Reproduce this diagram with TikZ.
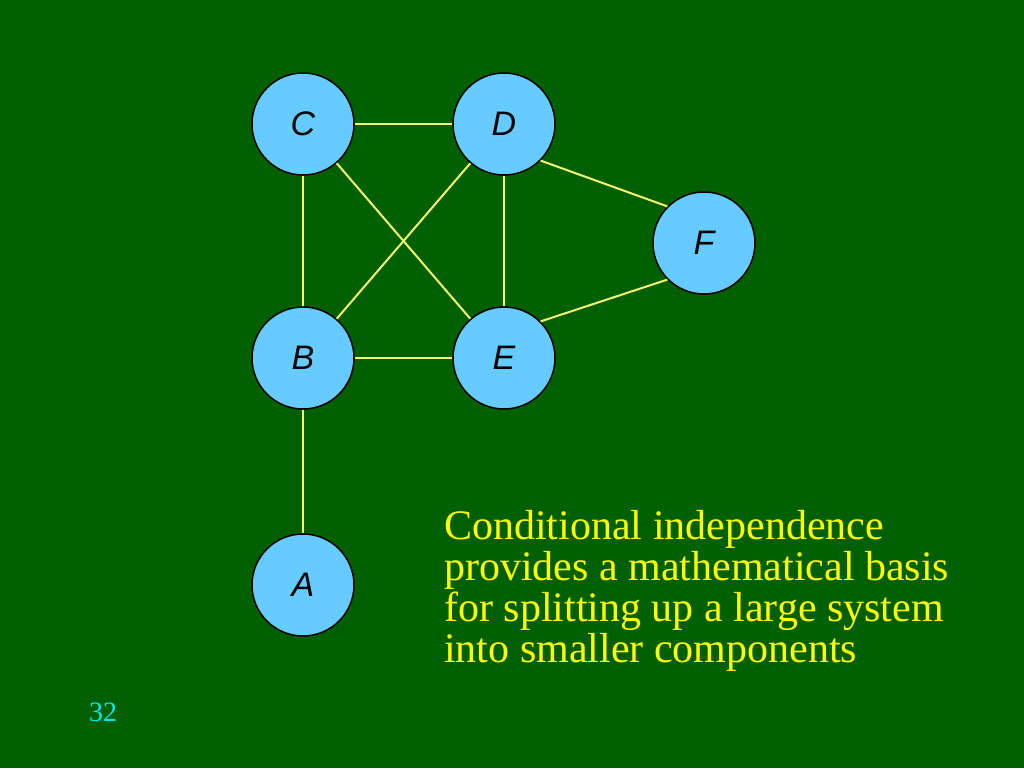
\documentclass[tikz,border=0pt]{standalone}
\usepackage{fontspec}
\setmainfont{Liberation Serif}
\newfontfamily\nodefont{Liberation Sans}
\begin{document}
\begin{tikzpicture}[x=1pt,y=-1pt,
  vtx/.style={circle,draw=black,line width=1.5pt,fill=nodeblue,minimum size=102pt,inner sep=0pt,font=\nodefont\itshape\fontsize{34}{34}\selectfont},
  edge/.style={draw=edgeyellow,line width=2pt}]
\definecolor{bg}{RGB}{0,96,0}
\definecolor{nodeblue}{RGB}{102,204,255}
\definecolor{edgeyellow}{RGB}{245,245,110}
\definecolor{txtyellow}{RGB}{255,255,0}
\definecolor{numcyan}{RGB}{0,230,230}
\fill[bg] (0,0) rectangle (1024,768);
\useasboundingbox (0,0) rectangle (1024,768);
\node[vtx] (C) at (303,124) {C};
\node[vtx] (D) at (504,124) {D};
\node[vtx] (F) at (704,243) {F};
\node[vtx] (B) at (303,358) {B};
\node[vtx] (E) at (504,358) {E};
\node[vtx] (A) at (303,585) {A};
\path[edge] (C) -- (D);
\path[edge] (C) -- (B);
\path[edge] (C) -- (E);
\path[edge] (D) -- (B);
\path[edge] (D) -- (E);
\path[edge] (D.-45) -- (F.135);
\path[edge] (F.225) -- (E.45);
\path[edge] (B) -- (E);
\path[edge] (B) -- (A);
\node[anchor=base west,align=left,text=txtyellow,inner sep=0pt,font=\fontsize{42}{41}\selectfont] (T) at (444,662) {Conditional independence\\provides a mathematical basis\\for splitting up a large system\\into smaller components};
\node[text=numcyan,font=\fontsize{28}{28}\selectfont,inner sep=0pt] (N) at (103,712) {32};
\end{tikzpicture}
\end{document}
